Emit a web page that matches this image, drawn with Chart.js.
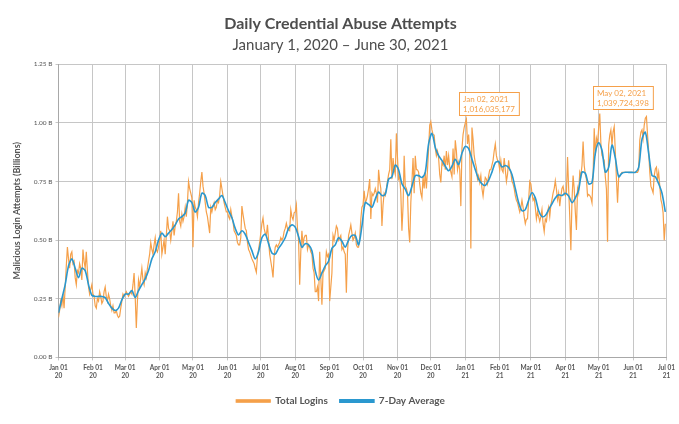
<!DOCTYPE html>
<html>
<head>
<meta charset="utf-8">
<script src="https://cdn.jsdelivr.net/npm/chart.js@4.4.1/dist/chart.umd.min.js"></script>
<style>
  body { margin: 0; background: #fff; }
  #wrap { width: 679px; height: 424px; }
</style>
</head>
<body>
<div id="wrap"><canvas id="abuse" width="679" height="424"></canvas></div>
<script>
const ORANGE = '#F5A04A'
const BLUE = '#2A98CF'
const GREY = '#555555'

// day index (from Jan 1 2020) of each month start, also the x tick positions
const monthStarts = [0, 31, 60, 91, 121, 152, 182, 213, 244, 274, 305, 335, 366, 397, 425, 456, 486, 517, 547]
const monthNames = ['Jan 01', 'Feb 01', 'Mar 01', 'Apr 01', 'May 01', 'Jun 01', 'Jul 01', 'Aug 01', 'Sep 01',
  'Oct 01', 'Nov 01', 'Dec 01', 'Jan 01', 'Feb 01', 'Mar 01', 'Apr 01', 'May 01', 'Jun 01', 'Jul 01']
const yearNames = ['20', '20', '20', '20', '20', '20', '20', '20', '20', '20', '20', '20', '21', '21', '21', '21', '21', '21', '21']

// daily total logins, billions
const jan20 = [0.17,0.20,0.24,0.22,0.27,0.21,0.30,0.39,0.47,0.42, 0.38,0.44,0.45,0.40,0.41,0.34,0.31,0.37,0.36,0.40, 0.38,0.33,0.46,0.41,0.38,0.45,0.37,0.30,0.27,0.29, 0.31]
const feb20 = [0.27,0.26,0.22,0.21,0.25,0.24,0.28,0.26,0.23,0.24, 0.28,0.30,0.26,0.24,0.27,0.25,0.22,0.20,0.22,0.19, 0.19,0.20,0.18,0.17,0.175,0.21,0.24,0.27,0.26]
const mar20 = [0.27,0.28,0.27,0.26,0.27,0.28,0.27,0.31,0.36,0.26, 0.125,0.24,0.33,0.30,0.34,0.38,0.33,0.31,0.36,0.34, 0.38,0.41,0.44,0.49,0.46,0.44,0.48,0.51,0.46,0.45, 0.47]
const apr20 = [0.50,0.54,0.44,0.47,0.50,0.44,0.52,0.60,0.55,0.54, 0.50,0.54,0.58,0.52,0.56,0.58,0.62,0.70,0.58,0.56, 0.61,0.58,0.60,0.64,0.60,0.66,0.75,0.72,0.70,0.68]
const may20 = [0.47,0.67,0.64,0.63,0.60,0.66,0.70,0.75,0.79,0.73, 0.70,0.66,0.62,0.60,0.565,0.53,0.64,0.62,0.645,0.66, 0.63,0.64,0.67,0.66,0.69,0.75,0.72,0.69,0.66,0.64, 0.62]
const jun20 = [0.62,0.60,0.59,0.63,0.60,0.58,0.54,0.53,0.52,0.49, 0.48,0.48,0.51,0.645,0.61,0.58,0.55,0.54,0.49,0.46, 0.45,0.435,0.42,0.41,0.40,0.38,0.363,0.43,0.46,0.49]
const jul20 = [0.53,0.57,0.594,0.55,0.53,0.52,0.565,0.50,0.44,0.41, 0.38,0.341,0.43,0.47,0.48,0.47,0.48,0.49,0.51,0.50, 0.51,0.536,0.55,0.572,0.55,0.543,0.54,0.63,0.60,0.587, 0.616]
const aug20 = [0.62,0.65,0.55,0.50,0.31,0.45,0.54,0.48,0.51,0.52, 0.52,0.46,0.48,0.47,0.45,0.44,0.38,0.36,0.28,0.28, 0.30,0.24,0.45,0.34,0.225,0.36,0.37,0.38,0.45,0.43, 0.44]
const sep20 = [0.24,0.30,0.36,0.52,0.50,0.53,0.56,0.55,0.50,0.51, 0.52,0.46,0.47,0.45,0.44,0.276,0.45,0.52,0.54,0.565, 0.53,0.50,0.51,0.53,0.48,0.47,0.47,0.51,0.59,0.64]
const oct20 = [0.65,0.71,0.66,0.67,0.69,0.72,0.76,0.59,0.70,0.69, 0.70,0.72,0.70,0.66,0.80,0.75,0.72,0.56,0.65,0.70, 0.69,0.72,0.75,0.78,0.80,0.93,0.76,0.85,0.80,0.78, 0.955]
const nov20 = [0.85,0.76,0.77,0.70,0.54,0.645,0.86,0.73,0.72,0.70, 0.55,0.49,0.66,0.75,0.85,0.70,0.86,0.80,0.80,0.79, 0.74,0.70,0.68,0.77,0.72,0.79,0.72,0.80,0.89,0.99]
const dec20 = [1.005,0.97,0.95,0.948,0.89,0.86,0.88,0.85,0.78,0.746, 0.83,0.82,0.86,0.80,0.88,0.82,0.86,0.81,0.79,0.77, 0.89,0.78,0.926,0.88,0.80,0.83,0.80,0.645,0.89,0.95, 0.98]
const jan21 = [1.00,1.016,0.91,0.95,0.88,0.464,0.98,0.93,0.86,0.83, 0.81,0.76,0.775,0.746,0.775,0.72,0.688,0.73,0.767,0.76, 0.74,0.775,0.80,0.80,0.82,0.84,0.88,0.91,0.86,0.84, 0.83]
const feb21 = [0.80,0.84,0.80,0.79,0.85,0.80,0.75,0.78,0.84,0.80, 0.79,0.75,0.74,0.72,0.69,0.67,0.66,0.64,0.62,0.64, 0.67,0.64,0.60,0.57,0.59,0.59,0.67,0.75]
const mar21 = [0.74,0.70,0.67,0.68,0.64,0.59,0.62,0.60,0.58,0.60, 0.63,0.57,0.536,0.59,0.58,0.62,0.64,0.60,0.65,0.673, 0.70,0.72,0.753,0.717,0.673,0.70,0.645,0.688,0.72,0.73, 0.70]
const apr21 = [0.69,0.70,0.854,0.72,0.60,0.457,0.67,0.775,0.72,0.62, 0.543,0.72,0.70,0.79,0.775,0.818,0.92,0.818,0.78,0.76, 0.688,0.695,0.69,0.681,0.659,0.775,0.977,0.861,0.934,0.912]
const may21 = [0.977,1.040,0.912,0.861,0.85,0.84,0.77,0.717,0.493,0.905, 0.948,0.97,0.905,0.962,0.984,0.876,0.76,0.659,0.767,0.775, 0.782,0.789,0.789,0.789,0.789,0.789,0.789,0.789,0.789,0.789, 0.789]
const jun21 = [0.789,0.789,0.789,0.789,0.789,0.80,0.926,0.96,0.97,0.934, 0.99,1.02,1.027,0.948,0.88,0.79,0.73,0.717,0.702,0.775, 0.803,0.811,0.76,0.789,0.731,0.673,0.652,0.616,0.50,0.57]

// 7-day average, one value every 3 days from Jan 1 2020
const AVG_STEP = 3
const avg7Day = [
  0.19,0.25,0.31,0.39,0.42,0.38,0.34,0.38,0.37,0.31,
  0.265,0.26,0.26,0.26,0.255,0.23,0.21,0.20,0.21,0.245,
  0.27,0.27,0.285,0.255,0.285,0.31,0.335,0.37,0.42,0.45,
  0.50,0.53,0.515,0.53,0.545,0.565,0.59,0.60,0.615,0.67,
  0.66,0.62,0.64,0.70,0.69,0.64,0.64,0.66,0.675,0.69,
  0.66,0.625,0.595,0.55,0.522,0.54,0.525,0.49,0.455,0.42,
  0.45,0.51,0.525,0.485,0.445,0.44,0.465,0.485,0.51,0.55,
  0.565,0.555,0.515,0.47,0.485,0.48,0.455,0.37,0.33,0.36,
  0.39,0.41,0.465,0.48,0.51,0.495,0.47,0.50,0.52,0.52,
  0.48,0.56,0.66,0.652,0.64,0.675,0.705,0.69,0.695,0.76,
  0.77,0.82,0.80,0.74,0.717,0.69,0.73,0.775,0.775,0.767,
  0.79,0.91,0.955,0.895,0.86,0.84,0.815,0.796,0.815,0.845,
  0.822,0.87,0.90,0.89,0.845,0.80,0.76,0.74,0.733,0.755,
  0.79,0.83,0.835,0.812,0.818,0.81,0.78,0.72,0.66,0.625,
  0.63,0.67,0.702,0.68,0.625,0.60,0.605,0.63,0.655,0.68,
  0.693,0.69,0.70,0.688,0.66,0.68,0.715,0.79,0.785,0.74,
  0.745,0.87,0.915,0.883,0.79,0.81,0.905,0.85,0.77,0.785,
  0.789,0.789,0.789,0.789,0.81,0.93,0.96,0.87,0.775,0.77,
  0.74,0.70,0.62
]

const peakNotes = [
  { day: 367, lines: ['Jan 02, 2021', '1,016,035,177'] },
  { day: 487, lines: ['May 02, 2021', '1,039,724,398'] }
]

let monthly = [jan20, feb20, mar20, apr20, may20, jun20, jul20, aug20, sep20, oct20, nov20, dec20,
  jan21, feb21, mar21, apr21, may21, jun21]
let loginPoints = []
monthly.forEach((vals, m) => {
  vals.forEach((v, i) => loginPoints.push({ x: monthStarts[m] + i, y: v }))
})
let avgPoints = avg7Day.map((v, i) => ({ x: i * AVG_STEP, y: v }))

// boxes with the two peak values
const peakBoxes = {
  id: 'peakBoxes',
  afterDatasetsDraw(chart) {
    const meta = chart.getDatasetMeta(0)
    const ctx = chart.ctx
    ctx.save()
    ctx.font = '8px Lato'
    peakNotes.forEach(note => {
      const idx = loginPoints.findIndex(p => p.x === note.day)
      const pt = meta.data[idx]
      if (!pt) return
      const w = Math.max(...note.lines.map(t => ctx.measureText(t).width)) + 8
      const h = 23
      const left = Math.round(pt.x - 7)
      const top = Math.round(pt.y - 4 - h)
      ctx.fillStyle = 'rgba(255,255,255,0.92)'
      ctx.fillRect(left, top, w, h)
      ctx.strokeStyle = ORANGE
      ctx.lineWidth = 1
      ctx.strokeRect(left + 0.5, top + 0.5, w, h)
      ctx.fillStyle = ORANGE
      ctx.textBaseline = 'middle'
      note.lines.forEach((t, i) => ctx.fillText(t, left + 4, top + 7.5 + i * 10))
    })
    ctx.restore()
  }
}

const ctx = document.getElementById('abuse').getContext('2d')
new Chart(ctx, {
  type: 'line',
  data: {
    datasets: [{
      label: 'Total Logins',
      data: loginPoints,
      borderColor: ORANGE,
      backgroundColor: ORANGE,
      borderWidth: 1.2,
      pointRadius: 0,
      tension: 0,
      order: 1
    }, {
      label: '7-Day Average',
      data: avgPoints,
      borderColor: BLUE,
      backgroundColor: BLUE,
      borderWidth: 1.6,
      pointRadius: 0,
      tension: 0.3,
      order: 0
    }]
  },
  options: {
    responsive: false,
    animation: false,
    layout: { padding: { left: 12, right: 10, top: 14, bottom: 8 } },
    plugins: {
      title: {
        display: true,
        text: 'Daily Credential Abuse Attempts',
        color: '#4d4d4d',
        font: { family: 'Lato', size: 16, weight: 'bold' },
        padding: { top: 0, bottom: 3 }
      },
      subtitle: {
        display: true,
        text: 'January 1, 2020 \u2013 June 30, 2021',
        color: '#4d4d4d',
        font: { family: 'Lato', size: 15 },
        padding: { top: 0, bottom: 10 }
      },
      legend: {
        position: 'bottom',
        labels: {
          color: GREY,
          font: { family: 'Lato', size: 10, weight: 'bold' },
          boxWidth: 34,
          boxHeight: 2.5,
          padding: 12,
          sort: (a, b) => a.datasetIndex - b.datasetIndex
        }
      },
      tooltip: { enabled: false }
    },
    scales: {
      x: {
        type: 'linear',
        min: 0,
        max: 547,
        afterBuildTicks: axis => { axis.ticks = monthStarts.map(v => ({ value: v })) },
        ticks: {
          autoSkip: false,
          maxRotation: 0,
          color: GREY,
          font: { family: 'Lato', size: 6.5, weight: 'bold' },
          padding: 4,
          callback: v => {
            const i = monthStarts.indexOf(v)
            return i < 0 ? '' : [monthNames[i], yearNames[i]]
          }
        },
        grid: { color: '#c6c6c6', tickLength: 3 },
        border: { color: '#a8a8a8' }
      },
      y: {
        min: 0,
        max: 1.25,
        ticks: {
          stepSize: 0.25,
          color: GREY,
          font: { family: 'Lato', size: 6.5 },
          padding: 3,
          callback: v => v.toFixed(2) + ' B'
        },
        grid: { color: '#c6c6c6', tickLength: 3 },
        border: { color: '#a8a8a8' },
        title: {
          display: true,
          text: 'Malicious Login Attempts (Billions)',
          color: GREY,
          font: { family: 'Lato', size: 9, weight: 'bold' },
          padding: { top: 0, bottom: 8 }
        }
      }
    }
  },
  plugins: [peakBoxes]
})
</script>
</body>
</html>
